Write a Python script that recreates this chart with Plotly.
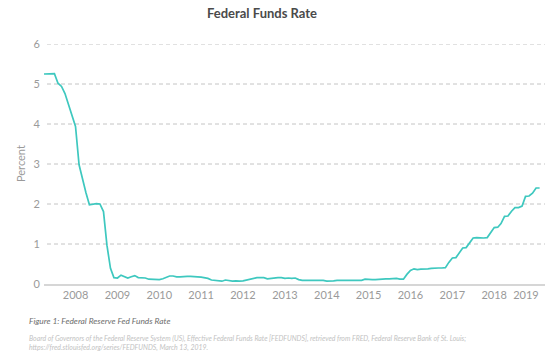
import plotly.graph_objects as go
import pandas as pd

# Monthly effective federal funds rate, Apr 2007 - Feb 2019
START = "2007-04-01"
rate_values = [
    5.25, 5.25, 5.25, 5.26, 5.02, 4.94, 4.76, 4.49, 4.24,            # 2007 Apr-Dec
    3.94, 2.98, 2.61, 2.28, 1.98, 2.00, 2.01, 2.00, 1.81, 0.97, 0.39, 0.16,  # 2008
    0.15, 0.22, 0.18, 0.15, 0.18, 0.21, 0.16, 0.16, 0.15, 0.12, 0.12, 0.12,  # 2009
    0.11, 0.13, 0.16, 0.20, 0.20, 0.18, 0.18, 0.19, 0.19, 0.19, 0.19, 0.18,  # 2010
    0.17, 0.16, 0.14, 0.10, 0.09, 0.09, 0.07, 0.10, 0.08, 0.07, 0.08, 0.07,  # 2011
    0.08, 0.10, 0.13, 0.14, 0.16, 0.16, 0.16, 0.13, 0.14, 0.16, 0.16, 0.16,  # 2012
    0.14, 0.15, 0.14, 0.15, 0.11, 0.09, 0.09, 0.08, 0.08, 0.09, 0.08, 0.09,  # 2013
    0.07, 0.07, 0.08, 0.09, 0.09, 0.10, 0.09, 0.09, 0.09, 0.09, 0.09, 0.12,  # 2014
    0.11, 0.11, 0.11, 0.12, 0.12, 0.13, 0.13, 0.14, 0.14, 0.12, 0.12, 0.24,  # 2015
    0.34, 0.38, 0.36, 0.37, 0.37, 0.38, 0.39, 0.40, 0.40, 0.40, 0.41, 0.54,  # 2016
    0.65, 0.66, 0.79, 0.90, 0.91, 1.04, 1.15, 1.16, 1.15, 1.15, 1.16, 1.30,  # 2017
    1.41, 1.42, 1.51, 1.69, 1.70, 1.82, 1.91, 1.91, 1.95, 2.19, 2.20, 2.27,  # 2018
    2.40, 2.40,                                                            # 2019
]
dates = pd.date_range(START, periods=len(rate_values), freq="MS")

year_labels = [str(y) for y in range(2008, 2020)]
# Jan 1 of each year; the last label is pulled inward so it stays inside the frame
year_ticks = [f"{y}-01-01" for y in range(2008, 2019)] + ["2018-10-05"]
y_ticks = [0, 1, 2, 3, 4, 5, 6]

FONT = "Lato"
fig = go.Figure()

# dashed horizontal guides at each y tick (drawn through the y axis scale)
for v in y_ticks[1:]:
    fig.add_shape(type="line", xref="paper", yref="y", x0=0.006, x1=1, y0=v, y1=v,
                  line=dict(color="#c4c4c4", width=1, dash="4px,3px"), layer="below")

fig.add_trace(go.Scatter(
    x=dates, y=rate_values, mode="lines",
    line=dict(color="#3ec8bf", width=1.7),
    showlegend=False,
))

fig.update_layout(
    width=545, height=357,
    margin=dict(l=44, r=0, t=44, b=73),
    paper_bgcolor="white", plot_bgcolor="white",
    font=dict(family=FONT, color="#9a9a9a"),
    title=dict(
        text="<b>Federal Funds Rate</b>",
        font=dict(family=FONT, size=13, color="#4a4a4a"),
        xref="container", x=262 / 545, xanchor="center",
        yref="container", y=1 - 13 / 357, yanchor="middle",
    ),
    xaxis=dict(
        type="date",
        range=["2007-04-01", "2019-03-20"],
        tickvals=year_ticks, ticktext=year_labels,
        showgrid=False, zeroline=False,
        showline=True, linecolor="#d6d6d6", linewidth=2,
        ticks="", tickfont=dict(family=FONT, size=11, color="#9a9a9a"),
    ),
    yaxis=dict(
        range=[0, 6], tickvals=y_ticks,
        showgrid=False, zeroline=False, showline=False, ticks="",
        tickfont=dict(family=FONT, size=11, color="#9a9a9a"),
        ticklabelstandoff=3,
    ),
    annotations=[
        dict(text="Percent", textangle=-90, xref="paper", yref="paper",
             x=(20 - 44) / 501, y=0.5, xanchor="center", yanchor="middle",
             showarrow=False, font=dict(family=FONT, size=11, color="#9a9a9a")),
        dict(text="<i>Figure 1: Federal Reserve Fed Funds Rate</i>",
             xref="paper", yref="paper", x=(27 - 44) / 501, y=(284 - 321) / 240,
             xanchor="left", yanchor="middle", showarrow=False, align="left",
             font=dict(family=FONT, size=8.4, color="#6e6e6e")),
        dict(text="<i>Board of Governors of the Federal Reserve System (US), Effective Federal Funds Rate [FEDFUNDS], retrieved from FRED, Federal Reserve Bank of St. Louis;"
                  "<br>https://fred.stlouisfed.org/series/FEDFUNDS, March 13, 2019.</i>",
             xref="paper", yref="paper", x=(27 - 44) / 501, y=(284 - 342.5) / 240,
             xanchor="left", yanchor="middle", showarrow=False, align="left",
             font=dict(family=FONT, size=6.9, color="#c2c2c2")),
    ],
)

fig.write_html(
    "out.html",
    config={"displayModeBar": False},
    post_script="document.body.style.margin='0';document.body.style.overflow='hidden';",
)
